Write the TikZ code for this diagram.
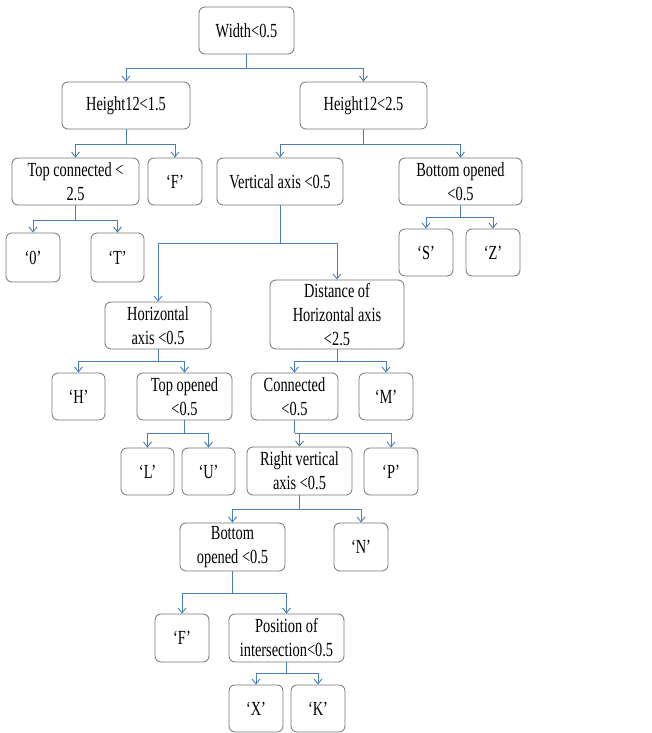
\documentclass[tikz,border=0pt]{standalone}
\usepackage{fontspec}
\setmainfont{Liberation Serif}[FakeStretch=0.72]
\usetikzlibrary{arrows.meta}
\definecolor{boxgray}{RGB}{115,115,115}
\definecolor{linkblue}{RGB}{74,126,187}
\begin{document}
\begin{tikzpicture}[x=1pt,y=-1pt,
  box/.style={draw=boxgray, line width=0.8pt, rounded corners=6pt, align=center, inner sep=1pt,
    font=\fontsize{20}{24}\selectfont},
  arr/.style={draw=linkblue, line width=0.9pt, -{Straight Barb[length=5pt,width=8pt]}},
  lnk/.style={draw=linkblue, line width=0.9pt}]
\useasboundingbox (0,0) rectangle (651,733);
\newcommand{\bx}[6]{\node[box, minimum width=#4pt, minimum height=#5pt] (#1) at (#2,#3) {#6};}
\bx{root}{246.5}{30.5}{95}{47}{Width<0.5}
\bx{h1}{126}{105.5}{128}{47}{Height12<1.5}
\bx{h2}{363.5}{105.5}{127}{47}{Height12<2.5}
\bx{tc}{75.5}{181.5}{127}{47}{Top connected <\\2.5}
\bx{f1}{175}{181.5}{54}{47}{‘F’}
\bx{va}{280}{181.5}{126}{47}{Vertical axis <0.5}
\bx{bo1}{460.5}{181.5}{123}{47}{Bottom opened\\<0.5}
\bx{z0}{33}{257.5}{54}{49}{‘0’}
\bx{t}{117.5}{257.5}{53}{49}{‘T’}
\bx{s}{426}{252.5}{54}{47}{‘S’}
\bx{zz}{493}{252.5}{54}{47}{‘Z’}
\bx{ha}{158}{325.5}{106}{47}{Horizontal\\axis <0.5}
\bx{dh}{337}{314.5}{134}{69}{Distance of\\Horizontal axis\\<2.5}
\bx{hh}{78.5}{396.5}{53}{47}{‘H’}
\bx{to}{184.5}{396.5}{95}{47}{Top opened\\<0.5}
\bx{co}{294.5}{396.5}{87}{47}{Connected\\<0.5}
\bx{m}{386}{396.5}{54}{47}{‘M’}
\bx{l}{147.5}{471.5}{53}{47}{‘L’}
\bx{u}{208.5}{471.5}{53}{47}{‘U’}
\bx{rv}{299.5}{471}{105}{48}{Right vertical\\axis <0.5}
\bx{p}{391}{471.5}{54}{47}{‘P’}
\bx{bo2}{232.5}{547}{105}{48}{Bottom\\opened <0.5}
\bx{n}{361}{547}{54}{48}{‘N’}
\bx{f2}{182}{638}{54}{48}{‘F’}
\bx{pi}{286.5}{638}{115}{48}{Position of\\intersection<0.5}
\bx{x}{256}{708.5}{54}{47}{‘X’}
\bx{k}{318}{708.5}{54}{47}{‘K’}
% junctions
\coordinate (jroot) at (root.south |- 0,68);
\coordinate (jh1) at (h1.south |- 0,144);
\coordinate (jh2) at (h2.south |- 0,144);
\coordinate (jtc) at (tc.south |- 0,220);
\coordinate (jbo1) at (bo1.south |- 0,217);
\coordinate (jva) at (va.south |- 0,243);
\coordinate (jha) at (ha.south |- 0,361);
\coordinate (jdh) at (dh.south |- 0,361);
\coordinate (jto) at (to.south |- 0,433);
\coordinate (jco) at (co.south |- 0,433);
\coordinate (jrv) at (rv.south |- 0,509);
\coordinate (jbo2) at (bo2.south |- 0,593);
\coordinate (jpi) at (pi.south |- 0,673);
\foreach \p/\a/\b in {root/h1/h2, h1/tc/f1, h2/va/bo1, tc/z0/t, bo1/s/zz, va/ha/dh,
  ha/hh/to, dh/co/m, to/l/u, co/rv/p, rv/bo2/n, bo2/f2/pi, pi/x/k}{
  \draw[lnk] (\p.south) -- (j\p);
  \draw[arr] (j\p) -| (\a.north);
  \draw[arr] (j\p) -| (\b.north);
}
\end{tikzpicture}
\end{document}
